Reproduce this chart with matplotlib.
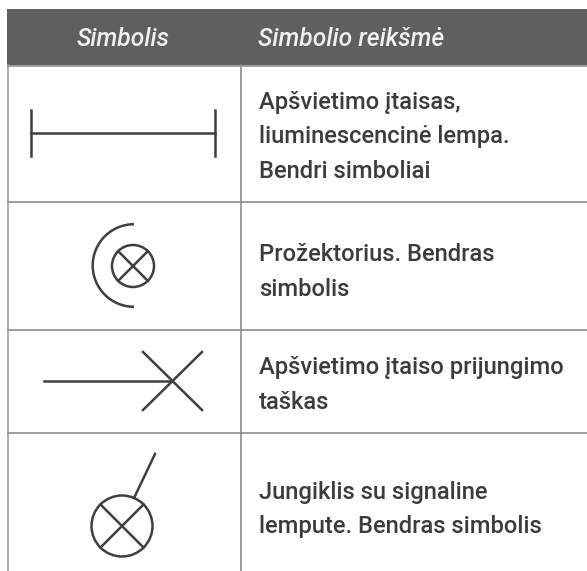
import matplotlib
matplotlib.use('Agg')
import matplotlib.pyplot as plt
from matplotlib.patches import Rectangle, Circle, Arc

W, H = 587, 571
headers = ['Simbolis', 'Simbolio reikšmė']
meanings = ['Apšvietimo įtaisas,\nliuminescencinė lempa.\nBendri simboliai',
            'Prožektorius. Bendras\nsimbolis',
            'Apšvietimo įtaiso prijungimo\ntaškas',
            'Jungiklis su signaline\nlempute. Bendras simbolis']
text_y = [137, 272, 385, 509.5]
row_lines = [65.5, 201.5, 329.5, 432.5]
col_x = 240.5
ink = '#3f3f3f'

plt.rcParams['font.family'] = ['Roboto', 'DejaVu Sans']
fig = plt.figure(figsize=(W/100, H/100), dpi=100)
ax = fig.add_axes([0, 0, 1, 1])
ax.set_xlim(0, W); ax.set_ylim(H, 0); ax.axis('off')
fig.patch.set_facecolor('#ffffff')

ax.add_patch(Rectangle((7, 9), W-7, 56, fc='#5f5f5f', ec='none'))
ax.plot([8, 8], [65, H], color='#a0a0a0', lw=1.2)
ax.plot([col_x, col_x], [65, H], color='#8c8c8c', lw=1.2)
for y in row_lines:
    ax.plot([8, W], [y, y], color='#8c8c8c', lw=1.2)

ax.text(123, 39, headers[0], color='#f0f0f0', fontsize=17.7, style='italic', weight='medium', ha='center', va='center')
ax.text(258, 39, headers[1], color='#f0f0f0', fontsize=17.7, style='italic', weight='medium', ha='left', va='center')
for t, y in zip(meanings, text_y):
    ax.text(259, y, t, color='#3c3c3c', fontsize=17.1, weight='medium', ha='left', va='center', linespacing=1.66)

lw = 1.8
# luminescent lamp
ax.plot([31, 215], [132.5, 132.5], color=ink, lw=lw)
ax.plot([31, 31], [110, 156], color=ink, lw=lw)
ax.plot([215, 215], [110, 156], color=ink, lw=lw)
# projector
ax.add_patch(Circle((133, 266), 21, fill=False, ec=ink, lw=lw))
d = 21*0.707
ax.plot([133-d, 133+d], [266-d, 266+d], color=ink, lw=lw)
ax.plot([133-d, 133+d], [266+d, 266-d], color=ink, lw=lw)
ax.add_patch(Arc((134, 265.5), 82.6, 82.6, theta1=90, theta2=270, ec=ink, lw=lw))
# connection point
ax.plot([44, 172], [380.5, 380.5], color=ink, lw=lw)
ax.plot([143, 202], [352, 410], color=ink, lw=lw)
ax.plot([143, 202], [410, 352], color=ink, lw=lw)
# switch with lamp
ax.add_patch(Circle((122, 526), 30.5, fill=False, ec=ink, lw=lw))
d = 30.5*0.707
ax.plot([122-d, 122+d], [526-d, 526+d], color=ink, lw=lw)
ax.plot([122-d, 122+d], [526+d, 526-d], color=ink, lw=lw)
ax.plot([134, 155], [498, 454], color=ink, lw=lw)

fig.savefig('out.png', dpi=100, facecolor=fig.get_facecolor())
